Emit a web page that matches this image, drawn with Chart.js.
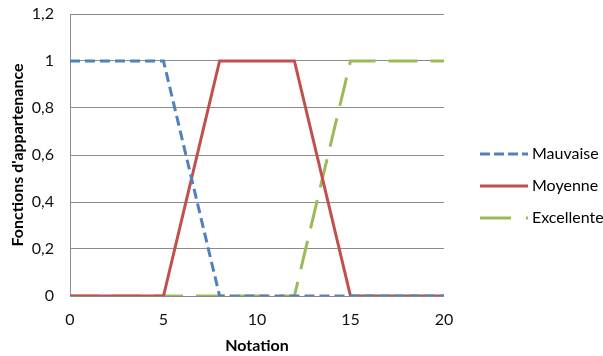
<!DOCTYPE html>
<html>
<head>
<meta charset="utf-8">
<script src="https://cdn.jsdelivr.net/npm/chart.js@4/dist/chart.umd.min.js"></script>
<style>
  html, body { margin: 0; padding: 0; background: #fff; }
  #wrap { width: 603px; height: 356px; }
</style>
</head>
<body>
<div id="wrap"><canvas id="c" width="603" height="356"></canvas></div>
<script>
// Membership functions over the grade scale (0 to 20)
const seriesNames = ['Mauvaise', 'Moyenne', 'Excellente'];
const mauvaiseX = [0, 5, 8, 20];
const mauvaiseY = [1, 1, 0, 0];
const moyenneX = [0, 5, 8, 12, 15, 20];
const moyenneY = [0, 0, 1, 1, 0, 0];
const excellenteX = [0, 12, 15, 20];
const excellenteY = [0, 0, 1, 1];
const xTicks = [0, 5, 10, 15, 20];
const yTicks = [0, 0.2, 0.4, 0.6, 0.8, 1, 1.2];

const toPoints = (xs, ys) => xs.map((x, i) => ({ x: x, y: ys[i] }));

const FONT = 'Lato, "Open Sans", "Liberation Sans", sans-serif';

// Legend drawn at the right, one row per series, with its own dash sample
const sideLegend = {
  id: 'sideLegend',
  afterDraw(chart) {
    const ctx = chart.ctx;
    const x0 = 480, sampleW = 48, rowGap = 32, yStart = 154;
    chart.data.datasets.forEach((ds, i) => {
      const y = yStart + i * rowGap;
      ctx.save();
      ctx.strokeStyle = ds.borderColor;
      ctx.lineWidth = ds.borderWidth;
      ctx.setLineDash(ds.legendDash || []);
      ctx.beginPath();
      ctx.moveTo(x0, y);
      ctx.lineTo(x0 + sampleW, y);
      ctx.stroke();
      ctx.setLineDash([]);
      ctx.fillStyle = '#000';
      ctx.font = '16px ' + FONT;
      ctx.textBaseline = 'middle';
      ctx.textAlign = 'left';
      ctx.fillText(ds.label, x0 + sampleW + 4, y);
      ctx.restore();
    });
  }
};

new Chart(document.getElementById('c'), {
  type: 'line',
  data: {
    datasets: [
      {
        label: seriesNames[0],
        data: toPoints(mauvaiseX, mauvaiseY),
        borderColor: '#4F81BD',
        borderWidth: 3,
        borderDash: [10, 5],
        legendDash: [10, 4],
        pointRadius: 0,
        tension: 0,
        fill: false
      },
      {
        label: seriesNames[1],
        data: toPoints(moyenneX, moyenneY),
        borderColor: '#C0504D',
        borderWidth: 3,
        legendDash: [],
        pointRadius: 0,
        tension: 0,
        fill: false
      },
      {
        label: seriesNames[2],
        data: toPoints(excellenteX, excellenteY),
        borderColor: '#9BBB59',
        borderWidth: 3,
        borderDash: [29, 13],
        legendDash: [31, 15, 2, 10],
        pointRadius: 0,
        tension: 0,
        fill: false
      }
    ]
  },
  options: {
    responsive: false,
    animation: false,
    layout: { padding: { left: 0, right: 159, top: 0, bottom: 0 } },
    plugins: {
      legend: { display: false },
      tooltip: { enabled: false }
    },
    scales: {
      x: {
        type: 'linear',
        min: 0,
        max: 20,
        afterBuildTicks: (s) => { s.ticks = xTicks.map(v => ({ value: v })); },
        afterFit: (s) => { s.height = 60; },
        grid: { display: false, drawTicks: false },
        border: { display: false },
        ticks: {
          padding: 14,
          color: '#111',
          font: { family: FONT, size: 16 },
          maxRotation: 0
        },
        title: {
          display: true,
          text: 'Notation',
          color: '#000',
          font: { family: FONT, size: 16, weight: 'bold' },
          padding: { top: 0, bottom: 1 }
        }
      },
      y: {
        min: 0,
        max: 1.2,
        afterBuildTicks: (s) => { s.ticks = yTicks.map(v => ({ value: v })); },
        afterFit: (s) => { s.width = 70; s.paddingTop = 14; s.paddingBottom = 0; },
        grid: { color: '#8C8C8C', lineWidth: 1, drawTicks: false },
        border: { display: true, color: '#8C8C8C', width: 1 },
        ticks: {
          padding: 16,
          color: '#111',
          font: { family: FONT, size: 16 },
          callback: (v) => String(Math.round(v * 10) / 10).replace('.', ',')
        },
        title: {
          display: true,
          text: "Fonctions d'appartenance",
          color: '#000',
          font: { family: FONT, size: 16, weight: 'bold' },
          padding: { top: 8, bottom: 0 }
        }
      }
    }
  },
  plugins: [sideLegend]
});
</script>
</body>
</html>
